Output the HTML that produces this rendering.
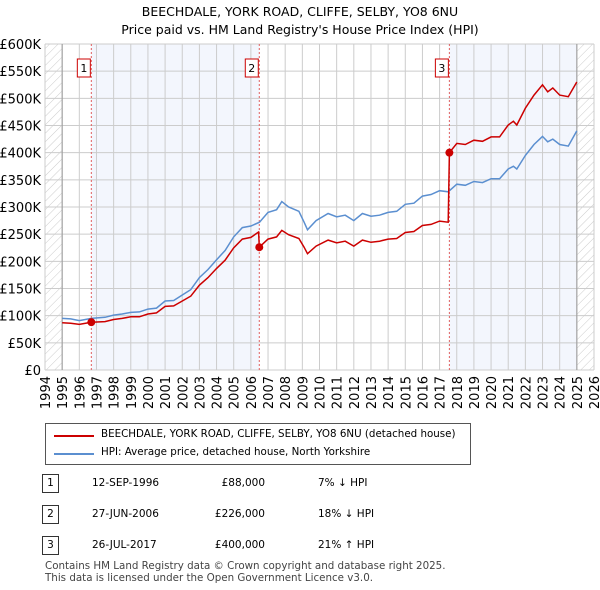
<!DOCTYPE html>
<html><head><meta charset="utf-8"><style>
body{margin:0;background:#fff;font-family:"Liberation Sans","DejaVu Sans",sans-serif;}
#wrap{position:relative;width:600px;height:590px;overflow:hidden;}
text{font-family:"DejaVu Sans","Liberation Sans",sans-serif;}
</style></head><body>
<div id="wrap">
<svg id="chart" width="600" height="590">
<defs><pattern id="hatch" width="6" height="6" patternUnits="userSpaceOnUse" patternTransform="rotate(45)"><line x1="0" y1="0" x2="0" y2="6" stroke="#ccc" stroke-width="1"/></pattern></defs>
<text x="300" y="16" text-anchor="middle" font-size="12.5">BEECHDALE, YORK ROAD, CLIFFE, SELBY, YO8 6NU</text>
<text x="300" y="34" text-anchor="middle" font-size="12.5">Price paid vs. HM Land Registry's House Price Index (HPI)</text>
<g id="plot"></g>
</svg>
<div style="position:absolute;left:45px;top:423px;width:424px;height:40px;border:1px solid #555;font-size:10.3px;white-space:nowrap;font-family:'DejaVu Sans',sans-serif">
 <div style="position:absolute;left:8px;top:5px;width:40px;height:2px;background:#cc0000;margin-top:6px"></div>
 <div style="position:absolute;left:55px;top:4px">BEECHDALE, YORK ROAD, CLIFFE, SELBY, YO8 6NU (detached house)</div>
 <div style="position:absolute;left:8px;top:23px;width:40px;height:2px;background:#5b8fd0;margin-top:6px"></div>
 <div style="position:absolute;left:55px;top:22px">HPI: Average price, detached house, North Yorkshire</div>
</div>
<div id="table" style="font-family:'DejaVu Sans',sans-serif;font-size:10.5px;white-space:nowrap"></div>
<div style="position:absolute;left:45px;top:560px;font-size:10.3px;color:#444;line-height:12px;white-space:nowrap;font-family:'DejaVu Sans',sans-serif">Contains HM Land Registry data © Crown copyright and database right 2025.<br>This data is licensed under the Open Government Licence v3.0.</div>
</div>
<script>
const hpiYears=[1995.0,1995.5,1996.0,1996.7,1997.5,1998.0,1998.5,1999.0,1999.5,2000.0,2000.5,2001.0,2001.5,2002.0,2002.5,2003.0,2003.5,2004.0,2004.5,2005.0,2005.5,2006.0,2006.5,2007.0,2007.5,2007.8,2008.2,2008.8,2009.1,2009.3,2009.8,2010.5,2011.0,2011.5,2012.0,2012.5,2013.0,2013.5,2014.0,2014.5,2015.0,2015.5,2016.0,2016.5,2017.0,2017.5,2018.0,2018.5,2019.0,2019.5,2020.0,2020.5,2021.0,2021.3,2021.5,2022.0,2022.5,2023.0,2023.3,2023.6,2024.0,2024.5,2025.0];
const hpiValues=[95,94,91,95,97,101,103,106,107,112,114,127,128,138,148,170,185,203,220,245,262,265,272,290,295,310,300,292,272,258,275,288,282,285,275,288,283,285,290,292,305,307,320,323,330,328,342,340,347,345,352,352,370,375,370,395,415,430,420,425,415,412,440];
const redYears=[1995.0,1995.5,1996.0,1996.7,1997.5,1998.0,1998.5,1999.0,1999.5,2000.0,2000.5,2001.0,2001.5,2002.0,2002.5,2003.0,2003.5,2004.0,2004.5,2005.0,2005.5,2006.0,2006.45,2006.49,2007.0,2007.5,2007.8,2008.2,2008.8,2009.1,2009.3,2009.8,2010.5,2011.0,2011.5,2012.0,2012.5,2013.0,2013.5,2014.0,2014.5,2015.0,2015.5,2016.0,2016.5,2017.0,2017.5,2017.57,2018.0,2018.5,2019.0,2019.5,2020.0,2020.5,2021.0,2021.3,2021.5,2022.0,2022.5,2023.0,2023.3,2023.6,2024.0,2024.5,2025.0];
const redValues=[87,86,84,88,89,93,95,98,98,103,105,117,118,127,136,156,170,187,202,225,241,244,254,226,241,245,257,249,242,226,214,228,239,234,237,228,239,235,237,241,242,253,255,266,268,274,272,400,417,415,423,421,429,429,451,458,451,482,506,525,512,519,506,503,530];
const saleYears=[1996.7,2006.49,2017.57];
const saleValues=[88,226,400];
const saleLabels=["1","2","3"];
const saleDates=["12-SEP-1996","27-JUN-2006","26-JUL-2017"];
const salePrices=["£88,000","£226,000","£400,000"];
const saleHpi=["7% ↓ HPI","18% ↓ HPI","21% ↑ HPI"];
const yTicks=[0,50,100,150,200,250,300,350,400,450,500,550,600];
const yTickLabels=["£0","£50K","£100K","£150K","£200K","£250K","£300K","£350K","£400K","£450K","£500K","£550K","£600K"];
const xTicks=[1994,1995,1996,1997,1998,1999,2000,2001,2002,2003,2004,2005,2006,2007,2008,2009,2010,2011,2012,2013,2014,2015,2016,2017,2018,2019,2020,2021,2022,2023,2024,2025,2026];

const L=45,R=594,T=44,B=370;
const x=v=>L+(v-1994)/(2026-1994)*(R-L);
const y=v=>B-v/600*(B-T);
const NS="http://www.w3.org/2000/svg";
const g=document.getElementById('plot');
function mk(tag,attrs,parent){const e=document.createElementNS(NS,tag);for(const k in attrs)e.setAttribute(k,attrs[k]);(parent||g).appendChild(e);return e;}
let e;
e=mk('rect',{x:x(saleYears[0]),y:T,width:x(saleYears[1])-x(saleYears[0]),height:B-T,fill:'#f3f6fd'});


e=mk('rect',{x:x(saleYears[2]),y:T,width:x(2025)-x(saleYears[2]),height:B-T,fill:'#f3f6fd'});


e=mk('rect',{x:x(1994),y:T,width:x(1995)-x(1994),height:B-T,fill:'url(#hatch)'});


e=mk('rect',{x:x(2025),y:T,width:x(2026)-x(2025),height:B-T,fill:'url(#hatch)'});


yTicks.forEach((t,i)=>{
 e=mk('line',{x1:L,x2:R,y1:y(t),y2:y(t),stroke:'#ccc','stroke-width':1});
 
 
 e=mk('text',{x:L-4,y:y(t)+5,'text-anchor':'end','font-size':13});
 e.textContent=yTickLabels[i];
 
 
});
xTicks.forEach(t=>{
 e=mk('line',{x1:x(t),x2:x(t),y1:T,y2:B,stroke:'#ccc','stroke-width':1});
 
 
 e=mk('text',{x:0,y:0,'text-anchor':'end','font-size':13,transform:`translate(${x(t)+5},${B+6}) rotate(-90)`});
 e.textContent=t;
 
 
});
e=mk('line',{x1:x(1995),x2:x(1995),y1:T,y2:B,stroke:'#999'});


e=mk('line',{x1:x(2025),x2:x(2025),y1:T,y2:B,stroke:'#999'});


saleYears.forEach((s,i)=>{
 e=mk('line',{x1:x(s),x2:x(s),y1:T,y2:B,stroke:'#e06060','stroke-dasharray':'2,2'});
 
 
 e=mk('rect',{x:x(s)-14,y:59,width:13,height:18,fill:'#fff',stroke:'#cc0000'});
 
 
 e=mk('text',{x:x(s)-7.5,y:72,'text-anchor':'middle','font-size':11});
 e.textContent=saleLabels[i];
 
 
});
function path(xs,vs){return xs.map((v,i)=>(i?'L':'M')+x(v).toFixed(1)+','+y(vs[i]).toFixed(1)).join('');}
e=mk('path',{d:path(hpiYears,hpiValues),fill:'none',stroke:'#5b8fd0','stroke-width':1.5});


e=mk('path',{d:path(redYears,redValues),fill:'none',stroke:'#cc0000','stroke-width':1.5});


saleYears.forEach((s,i)=>{
 e=mk('circle',{cx:x(s),cy:y(saleValues[i]),r:4,fill:'#cc0000'});
 
 
});
const tb=document.getElementById('table');
saleLabels.forEach((l,i)=>{
 const top=[474,505,536][i];
 const row=document.createElement('div');
 
 
 row.style.cssText=`position:absolute;left:0;top:${top}px;width:600px;height:18px`;
 row.innerHTML=`<div style="position:absolute;left:42px;top:0;width:15px;height:17px;border:1px solid #333;text-align:center;line-height:17px">${l}</div><div style="position:absolute;left:92px;top:3px">${saleDates[i]}</div><div style="position:absolute;right:335px;top:3px">${salePrices[i]}</div><div style="position:absolute;left:318px;top:3px">${saleHpi[i]}</div>`;
 tb.appendChild(row);
});
</script>
</body></html>
